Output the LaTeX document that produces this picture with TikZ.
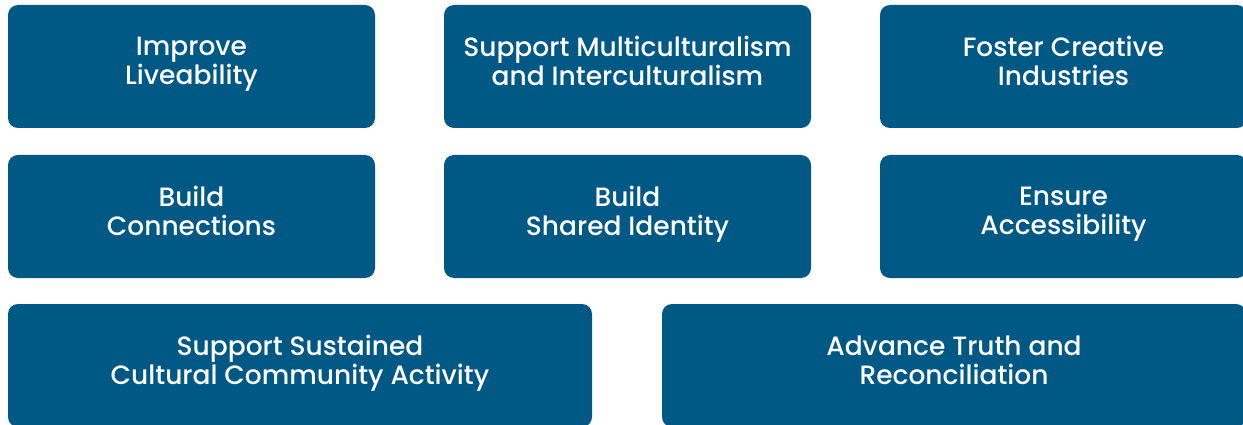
\documentclass[tikz,border=0pt]{standalone}
\usepackage{fontspec}
\setmainfont{Poppins Medium}
\usetikzlibrary{positioning}
\definecolor{goalblue}{RGB}{0,88,132}

\begin{document}
\begin{tikzpicture}[
    goal/.style={fill=goalblue, rounded corners=10pt, text=white, align=center,
        minimum width=367pt, minimum height=123pt, inner sep=0pt, outer sep=0pt,
        font=\fontsize{26.5}{28.5}\selectfont,
        execute at begin node=\rule{0pt}{24pt},
        execute at end node=\rule[-11pt]{0pt}{11pt}},
    widegoal/.style={goal, minimum width=584pt},
    node distance=27pt and 69pt
]
    \useasboundingbox (0,0) rectangle (1243pt,-425pt);

    \node[goal] (liveability) at (191.5pt,-66.5pt) {Improve\\Liveability};
    \node[goal] (multicultural) [right=of liveability] {Support Multiculturalism\\and Interculturalism};
    \node[goal] (creative) [right=of multicultural] {Foster Creative\\Industries};

    \node[goal] (connections) [below=of liveability] {Build\\Connections};
    \node[goal] (identity) [below=of multicultural] {Build\\Shared Identity};
    \node[goal] (access) [below=of creative] {Ensure\\Accessibility};

    \node[widegoal] (community) at (300pt,-365.5pt) {Support Sustained\\Cultural Community Activity};
    \node[widegoal] (truth) [right=70pt of community] {Advance Truth and\\Reconciliation};

\end{tikzpicture}
\end{document}
